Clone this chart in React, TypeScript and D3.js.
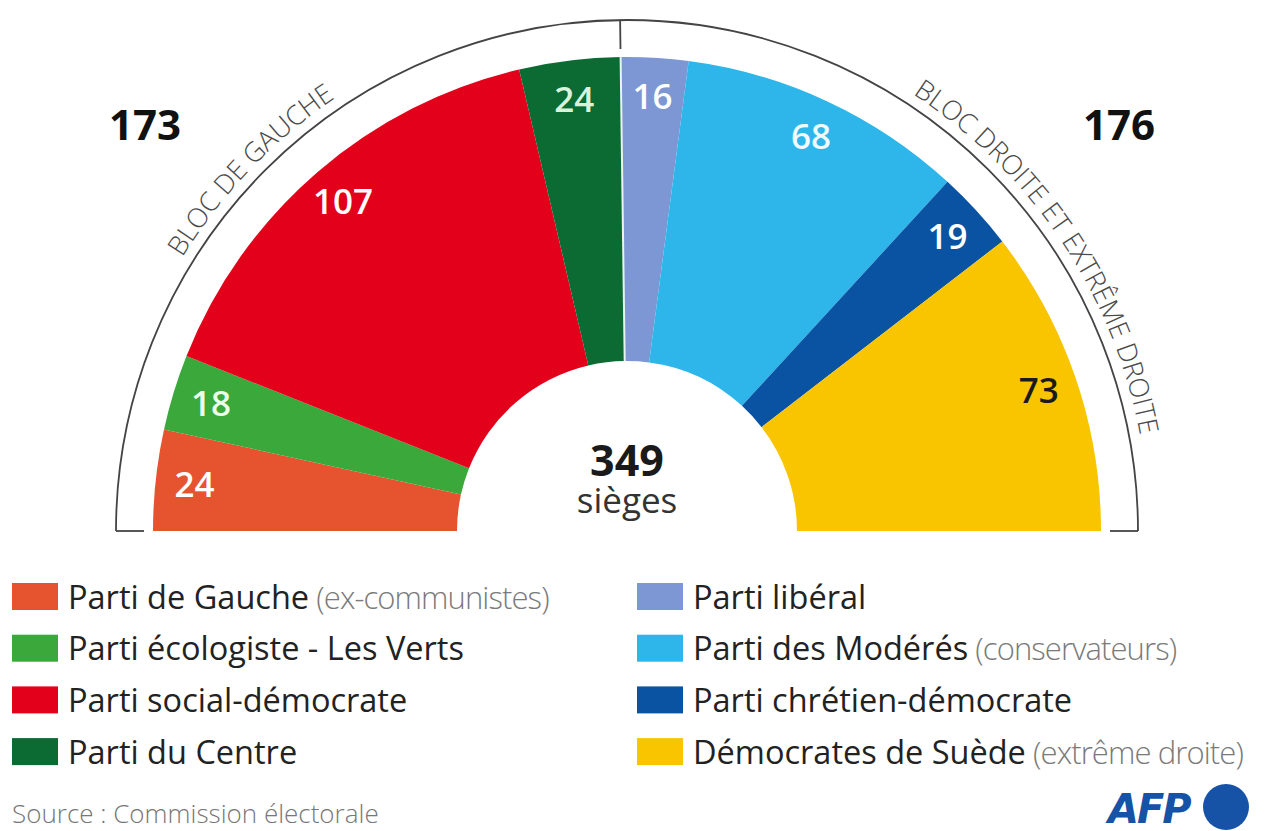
import React from "react";
import * as d3 from "d3";

const parties = [
  "Parti de Gauche",
  "Parti écologiste - Les Verts",
  "Parti social-démocrate",
  "Parti du Centre",
  "Parti libéral",
  "Parti des Modérés",
  "Parti chrétien-démocrate",
  "Démocrates de Suède",
];
const notes = ["(ex-communistes)", "", "", "", "", "(conservateurs)", "", "(extrême droite)"];
const seats = [24, 18, 107, 24, 16, 68, 19, 73];
const colors = ["#E5532F", "#3AA83A", "#E3001B", "#0C6A33", "#7C97D4", "#2EB6EA", "#0A53A2", "#F9C500"];
const labelColors = ["#fff", "#eaffea", "#fff", "#d8f5dc", "#fff", "#f0fbff", "#fff", "#1a1a1a"];
const blocs = ["BLOC DE GAUCHE", "BLOC DROITE ET EXTRÊME DROITE"];
const blocSeats = [173, 176];
const totalLabel = "349";
const totalSub = "sièges";
const source = "Source : Commission électorale";

const W = 1271;
const H = 831;
const cx = 627;
const cy = 531;
const rOuter = 474;
const rInner = 170;
const rLabel = 435;
const rLine = 511;
const rText = 522;
const FONT = "'Open Sans', 'Noto Sans', sans-serif";

export default function App() {
  const total = d3.sum(seats);
  const pie = d3
    .pie<number>()
    .sort(null)
    .startAngle(-Math.PI / 2)
    .endAngle(Math.PI / 2);
  const arcs = pie(seats);
  const arcGen = d3.arc<d3.PieArcDatum<number>>().innerRadius(rInner).outerRadius(rOuter);
  const labelArc = d3.arc<d3.PieArcDatum<number>>().innerRadius(rLabel).outerRadius(rLabel);

  const blocAngle = -Math.PI / 2 + (blocSeats[0] / total) * Math.PI;
  const pt = (r: number, a: number) => [cx + r * Math.sin(a), cy - r * Math.cos(a)];

  const [bx0, by0] = pt(rInner, blocAngle);
  const [bx1, by1] = pt(rOuter, blocAngle);
  const [tx0, ty0] = pt(rLine - 29, blocAngle);
  const [tx1, ty1] = pt(rLine, blocAngle);

  const linePath = `M ${cx - rLine},${cy} A ${rLine},${rLine} 0 0 1 ${cx + rLine},${cy}`;
  const textPath = `M ${cx - rText},${cy} A ${rText},${rText} 0 0 1 ${cx + rText},${cy}`;
  const halfLen = Math.PI * rText;
  const leftOffset = (43.8 / 180) * halfLen;
  const rightOffset = (146.3 / 180) * halfLen;

  const legendX = [12, 637];
  const legendY0 = 597;
  const legendDy = 51.7;

  return (
    <svg
      width={W}
      height={H}
      viewBox={`0 0 ${W} ${H}`}
      style={{ position: "absolute", left: 0, top: 0, background: "#fff" }}
      fontFamily={FONT}
    >
      <defs>
        <path id="blocTextPath" d={textPath} />
      </defs>
      <rect width={W} height={H} fill="#fff" />

      {/* outer bracket arc */}
      <path d={linePath} fill="none" stroke="#444" strokeWidth={1.8} />
      <line x1={cx - rLine} y1={cy} x2={cx - rLine + 28} y2={cy} stroke="#444" strokeWidth={1.8} />
      <line x1={cx + rLine} y1={cy} x2={cx + rLine - 28} y2={cy} stroke="#444" strokeWidth={1.8} />
      <line x1={tx0} y1={ty0} x2={tx1} y2={ty1} stroke="#444" strokeWidth={1.8} />

      <text fontSize={27} fill="#4a4a4a" fontWeight={300}>
        <textPath href="#blocTextPath" startOffset={leftOffset} textAnchor="middle">
          {blocs[0]}
        </textPath>
      </text>
      <text fontSize={27} fill="#4a4a4a" fontWeight={300}>
        <textPath href="#blocTextPath" startOffset={rightOffset} textAnchor="middle">
          {blocs[1]}
        </textPath>
      </text>

      {/* slices */}
      <g transform={`translate(${cx},${cy})`}>
        {arcs.map((a, i) => (
          <path key={i} d={arcGen(a) || ""} fill={colors[i]} />
        ))}
      </g>
      <line x1={bx0} y1={by0} x2={bx1} y2={by1} stroke="#e8f4f0" strokeWidth={2} />

      {/* slice labels */}
      <g transform={`translate(${cx},${cy})`}>
        {arcs.map((a, i) => {
          const [x, y] = labelArc.centroid(a);
          return (
            <text
              key={i}
              x={x}
              y={y}
              dy="0.36em"
              textAnchor="middle"
              fontSize={35}
              fontWeight={600}
              fill={labelColors[i]}
            >
              {seats[i]}
            </text>
          );
        })}
      </g>

      {/* bloc totals */}
      <text x={145} y={140} textAnchor="middle" fontSize={42} fontWeight={700} fill="#111">
        {blocSeats[0]}
      </text>
      <text x={1119} y={140} textAnchor="middle" fontSize={42} fontWeight={700} fill="#111">
        {blocSeats[1]}
      </text>

      {/* center */}
      <text x={cx} y={476} textAnchor="middle" fontSize={43} fontWeight={700} fill="#1a1a1a">
        {totalLabel}
      </text>
      <text x={cx} y={513} textAnchor="middle" fontSize={35} fontWeight={400} fill="#333">
        {totalSub}
      </text>

      {/* legend */}
      {parties.map((p, i) => {
        const col = i < 4 ? 0 : 1;
        const row = i % 4;
        const x = legendX[col];
        const y = legendY0 + row * legendDy;
        return (
          <g key={i}>
            <rect x={x} y={y - 14} width={46} height={27} fill={colors[i]} />
            <text x={x + 56} y={y} dy="0.36em" fontSize={32.5} fill="#222">
              {p}
              {notes[i] ? (
                <tspan fill="#7a7a7a" fontWeight={300} fontSize={31} letterSpacing={-0.9}>
                  {" " + notes[i]}
                </tspan>
              ) : null}
            </text>
          </g>
        );
      })}

      <text x={12} y={823} fontSize={26} fill="#777" fontWeight={300}>
        {source}
      </text>

      {/* AFP logo */}
      <text
        x={1108}
        y={823}
        fontSize={40}
        fontWeight={800}
        fontStyle="italic"
        fill="#1652A6"
        letterSpacing={-2}
        fontFamily="'DejaVu Sans', sans-serif"
      >
        AFP
      </text>
      <circle cx={1226} cy={807} r={23} fill="#1652A6" />
    </svg>
  );
}
